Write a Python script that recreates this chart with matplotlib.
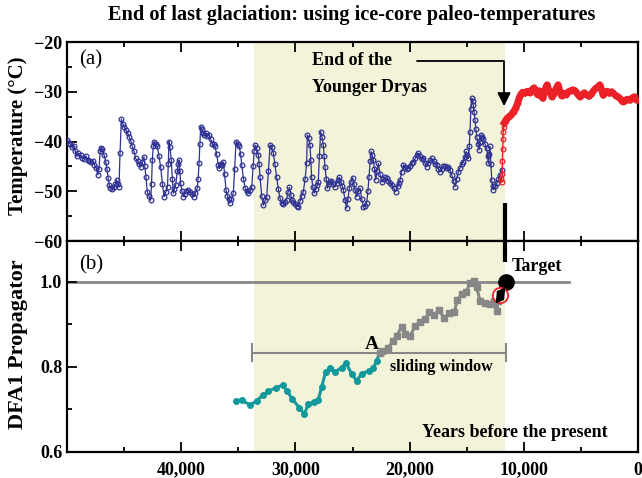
import matplotlib
matplotlib.use('Agg')
import matplotlib.pyplot as plt
from matplotlib.ticker import MultipleLocator, FuncFormatter
from matplotlib.markers import MarkerStyle
from matplotlib.transforms import Affine2D

plt.rcParams['font.family'] = 'Liberation Serif'
plt.rcParams['font.weight'] = 'bold'

# ice-core temperature, glacial part: (years BP, deg C)
glacial = [
    (49970, -39.6), (49850, -40.3), (49700, -40.5), (49550, -41.2), (49400, -41.0),
    (49280, -42.0), (49150, -43.0), (49000, -42.4), (48800, -42.7), (48650, -43.3),
    (48500, -43.5), (48350, -42.9), (48200, -43.7), (48050, -44.0), (47900, -44.2),
    (47750, -44.0), (47600, -44.7), (47450, -45.3), (47300, -46.7), (47200, -45.5),
    (47100, -42.0), (47000, -41.3), (46900, -41.6), (46750, -42.8), (46600, -44.1),
    (46500, -45.6), (46400, -47.4), (46300, -48.8), (46200, -49.4), (46050, -49.6),
    (45900, -49.2), (45780, -48.6), (45650, -47.7), (45550, -48.5), (45450, -49.1),
    (45360, -42.4), (45240, -35.5), (45120, -36.4), (45000, -37.0), (44850, -37.7),
    (44700, -38.3), (44570, -39.0), (44420, -39.8), (44280, -41.0), (44130, -42.0),
    (43990, -43.4), (43800, -44.0), (43680, -44.6), (43550, -45.1), (43400, -44.2),
    (43260, -43.1), (43180, -45.0), (43100, -47.1), (42970, -50.1), (42820, -51.0),
    (42670, -51.8), (42600, -48.5), (42530, -43.7), (42450, -41.0), (42380, -40.0),
    (42250, -40.5), (42090, -41.0), (41950, -43.0), (41800, -45.1), (41650, -48.5),
    (41500, -51.1), (41350, -50.2), (41200, -49.1), (41130, -44.5), (41070, -40.0),
    (40980, -41.2), (40870, -43.7), (40780, -47.5), (40690, -50.4), (40600, -49.6),
    (40480, -48.7), (40350, -46.0), (40270, -44.5), (40190, -43.7), (40120, -46.0),
    (40050, -48.4), (39940, -50.0), (39820, -51.1), (39700, -50.5), (39550, -50.0),
    (39400, -49.7), (39250, -50.2), (39100, -50.6), (38900, -51.1), (38750, -50.3),
    (38600, -49.4), (38520, -47.5), (38440, -44.4), (38370, -40.5), (38300, -37.0),
    (38200, -37.4), (38100, -38.2), (38000, -38.7), (37850, -38.3), (37700, -38.9),
    (37570, -38.7), (37420, -39.5), (37280, -40.4), (37150, -40.6), (37040, -41.0),
    (36900, -42.5), (36750, -44.7), (36650, -45.4), (36530, -44.6), (36420, -44.8),
    (36310, -44.1), (36200, -46.5), (36080, -49.7), (35950, -51.0), (35850, -51.6),
    (35730, -52.4), (35600, -51.5), (35440, -50.4), (35320, -45.5), (35200, -40.0),
    (35050, -40.4), (34910, -41.0), (34800, -42.5), (34700, -44.7), (34550, -47.5),
    (34400, -49.4), (34250, -50.0), (34120, -50.4), (33980, -49.8), (33830, -49.2),
    (33700, -45.0), (33620, -42.0), (33540, -40.7), (33400, -41.4), (33250, -42.7),
    (33180, -44.5), (33100, -47.1), (32950, -51.0), (32810, -52.8), (32650, -51.8),
    (32510, -51.1), (32370, -46.0), (32220, -40.7), (32080, -41.2), (31930, -42.4),
    (31800, -44.5), (31640, -47.1), (31500, -49.5), (31350, -51.4), (31200, -52.3),
    (31050, -52.6), (30910, -52.1), (30780, -51.7), (30650, -50.2), (30530, -49.2),
    (30400, -50.8), (30300, -51.8), (30180, -52.1), (30000, -52.6), (29880, -53.0),
    (29750, -53.1), (29600, -52.0), (29450, -51.0), (29310, -50.1), (29150, -47.5),
    (29020, -44.4), (28960, -38.7), (28850, -39.3), (28720, -40.7), (28650, -43.8),
    (28580, -47.1), (28480, -49.2), (28370, -50.4), (28200, -49.5), (28100, -48.8),
    (28000, -48.1), (27900, -43.0), (27790, -38.0), (27680, -39.0), (27560, -40.7),
    (27480, -43.0), (27410, -45.1), (27300, -47.5), (27210, -49.4), (27100, -48.5),
    (26970, -48.1), (26850, -48.0), (26700, -48.6), (26530, -49.1), (26400, -48.4),
    (26280, -47.8), (26160, -47.2), (26000, -48.2), (25900, -49.0), (25800, -49.7),
    (25660, -51.8), (25510, -53.4), (25400, -51.5), (25280, -49.4), (25150, -48.2),
    (24980, -47.3), (24880, -48.5), (24780, -49.8), (24630, -51.1), (24480, -50.0),
    (24340, -49.4), (24200, -51.5), (24050, -53.1), (23900, -53.0), (23760, -52.4),
    (23650, -50.0), (23560, -47.1), (23450, -44.0), (23380, -42.0), (23280, -42.8),
    (23180, -43.7), (23080, -45.5), (22970, -47.7), (22860, -46.0), (22740, -44.4),
    (22600, -46.5), (22440, -48.1), (22300, -47.6), (22150, -47.2), (22000, -47.4),
    (21850, -47.9), (21700, -48.3), (21570, -48.7), (21400, -49.4), (21220, -50.1),
    (21050, -49.0), (20950, -48.3), (20840, -47.7), (20700, -46.2), (20550, -44.7),
    (20400, -45.2), (20250, -45.6), (20110, -45.4), (19950, -44.9), (19800, -44.4),
    (19680, -44.1), (19500, -43.4), (19350, -42.8), (19240, -42.4), (19100, -42.9),
    (18950, -43.6), (18800, -43.4), (18650, -44.4), (18510, -45.1), (18350, -44.3),
    (18200, -43.8), (18070, -43.4), (17900, -44.0), (17750, -44.5), (17630, -44.7),
    (17480, -45.6), (17340, -46.1), (17200, -45.5), (17050, -45.0), (16900, -44.9),
    (16750, -45.4), (16600, -45.2), (16460, -45.7), (16300, -46.8), (16150, -48.0),
    (16020, -49.1), (15880, -47.5), (15730, -46.1), (15600, -45.4), (15450, -44.6),
    (15300, -44.1), (15180, -43.2), (15060, -42.0), (14960, -42.8), (14860, -43.4),
    (14780, -41.0), (14710, -38.0), (14640, -33.5), (14560, -31.3), (14490, -31.8),
    (14420, -32.7), (14350, -34.0), (14270, -35.7), (14200, -37.5), (14120, -39.0),
    (14020, -40.5), (13920, -41.7), (13840, -40.0), (13750, -38.7), (13650, -39.0),
    (13550, -39.4), (13400, -40.5), (13250, -41.4), (13180, -43.0), (13110, -44.4),
    (13040, -42.5), (12960, -41.0), (12880, -44.5), (12810, -47.7), (12740, -49.0),
    (12670, -49.7), (12520, -49.0), (12370, -48.4), (12220, -47.5), (12080, -46.7),
    (11940, -45.7),
]

# Holocene part: abrupt warming, then the warm plateau
jump_years = [12000, 11950, 11900, 11870, 11850, 11820, 11800, 11750, 11700]
jump_temp = [-47.5, -48.2, -46.5, -44.0, -41.5, -39.5, -38.0, -37.0, -36.2]
holocene_years = [11700, 11600,
                  11450, 11300, 11100, 10900, 10700, 10550, 10400, 10250, 10100, 9900,
                  9700, 9500, 9300, 9100, 8950, 8800, 8650, 8500, 8350, 8200,
                  8050, 7950, 7850, 7700, 7550, 7400, 7200, 7000, 6850, 6700,
                  6500, 6300, 6100, 5900, 5700, 5500, 5300, 5100, 4900, 4700,
                  4500, 4300, 4100, 3900, 3700, 3500, 3350, 3200, 3050, 2900,
                  2700, 2500, 2300, 2150, 1950, 1750, 1550, 1350, 1150, 950,
                  700, 500, 300, 150, 0]
holocene_temp = [-36.2, -35.8,
                 -35.3, -35.0, -34.6, -34.0, -33.2, -32.3, -31.2, -30.5, -30.1, -30.3,
                 -29.9, -30.2, -29.6, -29.2, -30.0, -30.6, -29.8, -30.8, -31.3, -30.2,
                 -29.0, -28.6, -29.5, -30.0, -31.0, -30.5, -29.5, -28.6, -29.8, -30.8,
                 -30.3, -30.6, -30.0, -29.8, -29.6, -29.8, -30.4, -31.0, -30.6, -30.2,
                 -30.6, -30.9, -30.5, -29.8, -29.3, -29.0, -28.6, -29.5, -30.7, -30.2,
                 -29.9, -30.3, -30.0, -30.3, -30.8, -31.0, -31.4, -32.0, -31.8, -31.5,
                 -31.7, -31.2, -31.0, -31.6, -31.7]

# DFA1 propagator
early_years = [35200, 34700, 33980, 33400, 32870, 32370, 31700, 31110, 30710, 30270,
               29660, 29220, 28870, 28370, 28000, 27700, 27350, 26970, 26530, 25950,
               25570, 25070, 24630, 24200, 23600, 23180, 22900, 22600]
early_dfa = [0.720, 0.722, 0.710, 0.720, 0.733, 0.742, 0.751, 0.757, 0.742, 0.724,
             0.704, 0.689, 0.712, 0.718, 0.722, 0.753, 0.788, 0.796, 0.788, 0.798,
             0.809, 0.783, 0.767, 0.784, 0.790, 0.796, 0.814, 0.833]
late_years = [22600, 22450, 21870, 21430, 21130, 20690, 20400, 19960, 19530, 19090,
              18650, 18270, 17860, 17430, 16990, 16520, 16090, 15820, 15440, 15060,
              14710, 14360, 14130, 13840, 13400, 12960, 12610, 12370, 12230]
late_dfa = [0.833, 0.836, 0.845, 0.861, 0.873, 0.894, 0.877, 0.871, 0.896, 0.904,
            0.912, 0.928, 0.922, 0.933, 0.915, 0.925, 0.929, 0.957, 0.971, 0.975,
            0.996, 1.002, 0.987, 0.955, 0.949, 0.948, 0.955, 0.930, 0.955]

target_year, target_dfa = 11560, 1.0
pred_year, pred_dfa = 12080, 0.969
shade = (33600, 11650)
window = (33800, 11600, 0.833)
yd_end = 11650
xticks = [40000, 30000, 20000, 10000, 0]

blue = '#2e3192'
red = '#ec2027'
teal = '#13999b'
gray = '#878787'
shade_clr = '#f3f3da'

glacial_years = [p[0] for p in glacial]
glacial_temp = [p[1] for p in glacial]

fig = plt.figure(figsize=(6.42, 4.78), dpi=100)
ax1 = fig.add_axes([0.1044, 0.4958, 0.8894, 0.4163])
ax2 = fig.add_axes([0.1044, 0.0544, 0.8894, 0.4414])

for ax in (ax1, ax2):
    ax.axvspan(shade[0], shade[1], color=shade_clr, lw=0, zorder=0)
    ax.set_xlim(50000, 0)
    ax.set_xticks(xticks)
    ax.xaxis.set_minor_locator(MultipleLocator(5000))
    ax.tick_params(which='both', direction='in', top=True, right=False, width=1.3,
                   labelsize=13)
    ax.tick_params(which='major', length=7)
    ax.tick_params(which='minor', length=3.5)
    for s in ax.spines.values():
        s.set_linewidth(1.6)

# (a) temperatures
ax1.plot(glacial_years, glacial_temp, '-', color=blue, lw=0.9, marker='o', ms=3.4,
         mfc='none', mec=blue, mew=0.9, zorder=3)
ax1.plot(jump_years, jump_temp, '-', color=red, lw=1, marker='o', ms=3.4,
         mfc='none', mec=red, mew=0.9, zorder=3)
ax1.plot(holocene_years, holocene_temp, '-', color=red, lw=5, marker='o', ms=3.4,
         mfc='none', mec=red, mew=0.9, zorder=3)
ax1.set_ylim(-60, -20)
ax1.yaxis.set_major_locator(MultipleLocator(10))
ax1.yaxis.set_minor_locator(MultipleLocator(5))
ax1.tick_params(labelbottom=False)
ax1.plot([yd_end, yd_end], [-52.4, -60], color='k', lw=3, solid_capstyle='butt', zorder=4,
         clip_on=False)
ax1.annotate('', xy=(11730, -32.9), xytext=(19350, -23.8),
             arrowprops=dict(arrowstyle='-|>,head_length=0.8,head_width=0.4',
                             connectionstyle='angle,angleA=0,angleB=90,rad=0',
                             color='k', lw=1.3, shrinkA=0, shrinkB=0))
ax1.text(28550, -23.8, 'End of the', fontsize=13, va='center', ha='left')
ax1.text(28550, -29.2, 'Younger Dryas', fontsize=13, va='center', ha='left')
ax1.text(0.022, 0.91, '(a)', transform=ax1.transAxes, fontsize=15, fontweight='normal',
         va='center', ha='left')

# (b) DFA1 propagator
ax2.axhline(1.0, xmin=0, xmax=(50000 - 6040) / 50000, color=gray, lw=2, zorder=1)
ax2.plot([window[0], window[1]], [window[2], window[2]], color=gray, lw=1.5, zorder=1)
for xe in window[:2]:
    ax2.plot([xe, xe], [window[2] - 0.02, window[2] + 0.02], color=gray, lw=1.5, zorder=1)
ax2.plot(early_years, early_dfa, '-', color=teal, lw=2.2, marker='o', ms=4, zorder=3)
ax2.plot(late_years, late_dfa, '-', color=gray, lw=2.2, marker='s', ms=4, zorder=3)
ax2.plot([yd_end, yd_end], [1.095, 1.045], color='k', lw=3, solid_capstyle='butt', zorder=4,
         clip_on=False)
ax2.plot(target_year, target_dfa, 'o', color='k', ms=11, zorder=5)
ax2.plot(pred_year, pred_dfa, 'o', mfc='white', mec=red, mew=1.3, ms=11, zorder=5)
pen = MarkerStyle('d', transform=Affine2D().rotate_deg(-45).scale(0.7, 1.1))
ax2.plot(pred_year, pred_dfa, marker=pen, color='k', ms=9, ls='none', zorder=6)
ax2.set_ylim(0.6, 1.095)
ax2.yaxis.set_major_locator(MultipleLocator(0.2))
ax2.yaxis.set_minor_locator(MultipleLocator(0.1))
ax2.yaxis.set_major_formatter(FuncFormatter(lambda v, p: '%.1f' % v))
ax2.xaxis.set_major_formatter(FuncFormatter(lambda v, p: '{:,.0f}'.format(v)))
ax2.tick_params(axis='x', pad=7)
ax2.text(23300, 0.852, 'A', fontsize=14, ha='center', va='center')
ax2.text(21700, 0.80, 'sliding window', fontsize=11.5, ha='left', va='center')
ax2.text(11030, 1.035, 'Target', fontsize=13, ha='left', va='center')
ax2.text(10770, 0.645, 'Years before the present', fontsize=13, ha='center', va='center')
ax2.text(0.022, 0.886, '(b)', transform=ax2.transAxes, fontsize=15, fontweight='normal',
         va='center', ha='left')

fig.text(0.028, 0.715, 'Temperature (\u00b0C)', rotation=90, fontsize=15,
         ha='center', va='center')
fig.text(0.028, 0.28, 'DFA1 Propagator', rotation=90, fontsize=16,
         ha='center', va='center')
fig.text(0.548, 0.968, 'End of last glaciation: using ice-core paleo-temperatures',
         fontsize=14.6, ha='center', va='center')

fig.savefig('out.png', dpi=100)
